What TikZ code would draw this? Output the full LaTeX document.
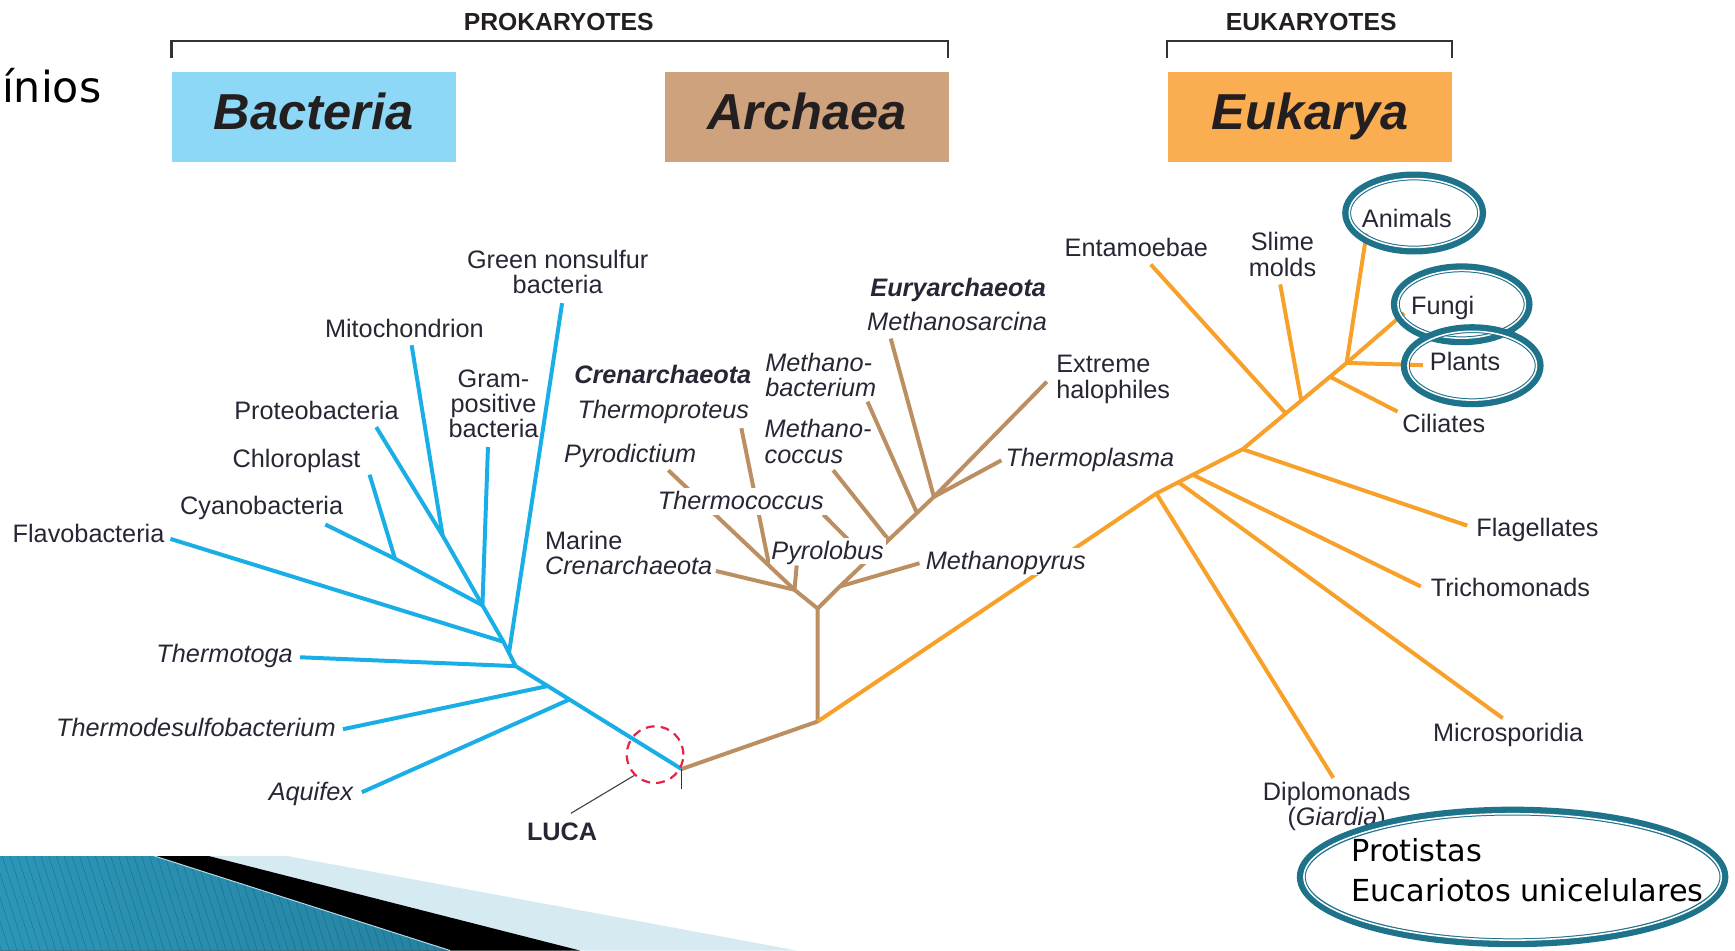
\documentclass[tikz,border=0pt]{standalone}
\usepackage{fontspec}
\setmainfont{Liberation Sans}
\newfontfamily\slidefont{DejaVu Sans}
\usetikzlibrary{positioning,calc}

\definecolor{bactblue}{HTML}{1AAEE6}
\definecolor{archtan}{HTML}{BC8F63}
\definecolor{eukorange}{HTML}{F7A02A}
\definecolor{bactbox}{HTML}{8DD8F6}
\definecolor{archbox}{HTML}{CFA27E}
\definecolor{eukbox}{HTML}{FBAD52}
\definecolor{ringteal}{HTML}{1E738A}
\definecolor{lucared}{HTML}{E8234A}
\definecolor{labelink}{HTML}{2A2535}
\definecolor{boxink}{HTML}{231F20}
\definecolor{bandblue}{HTML}{D6EAF2}
\definecolor{bandteal}{HTML}{2FA3C9}

\begin{document}
\begin{tikzpicture}[x=0.02cm, y=-0.02cm,
  bline/.style = {draw=bactblue, line width=0.072cm, line join=round},
  aline/.style = {draw=archtan, line width=0.072cm, line join=round},
  eline/.style = {draw=eukorange, line width=0.072cm, line join=round},
  taxon/.style = {font=\fontsize{13}{13}\selectfont, text=labelink, inner sep=1pt, align=center},
  single/.style = {taxon, text height=10pt, text depth=1.7pt},
  sp/.style = {single, font=\fontsize{13}{13}\selectfont\itshape},
  clade/.style = {single, font=\fontsize{13}{13}\selectfont\bfseries\itshape},
  cover/.style = {fill=white},
  dombox/.style = {minimum width=5.14cm, minimum height=1.62cm, inner sep=0pt, text=boxink,
    font=\fontsize{26}{26}\selectfont\bfseries\itshape, text height=20.2pt, text depth=7.4pt},
  groupname/.style = {font=\fontsize{12.7}{13}\selectfont\bfseries, text=boxink, inner sep=0pt},
  bracket/.style = {draw=black!80, line width=0.04cm},
  ringout/.style = {draw=ringteal, line width=0.16cm},
  ringgap/.style = {draw=white, line width=0.028cm},
  lucaring/.style = {circle, draw=lucared, line width=0.04cm, dash pattern=on 0.16cm off 0.11cm,
    minimum size=1.024cm, inner sep=0pt},
  leader/.style = {draw=black!75, line width=0.02cm},
  slide/.style = {font=\slidefont\fontsize{15.6}{18}\selectfont, text=black, inner sep=0pt},
  stripe/.style = {draw=black!60!bandteal, line width=0.25pt, opacity=0.4}
]
\useasboundingbox (0,0) rectangle (1568,859);

% headers
\node[slide, font=\slidefont\fontsize{22}{26}\selectfont, anchor=base east] (domword) at (92,93) {ínios};
\node[groupname] (prok) at (505,20) {PROKARYOTES};
\node[groupname] (euk) at (1185,20) {EUKARYOTES};
\draw[bracket] (155,52) -- (155,37) -- (857,37) -- (857,52);
\draw[bracket] (1055,52) -- (1055,37) -- (1312,37) -- (1312,52);
\node[dombox, fill=bactbox] (bacteria) at (283.5,105.5) {Bacteria};
\node[dombox, fill=archbox] (archaea) at (729.5,105.5) {Archaea};
\node[dombox, fill=eukbox] (eukarya) at (1184,105.5) {Eukarya};

% bacteria
\coordinate (luca) at (616,695);
\coordinate (bA) at (436,547);
\coordinate (bF) at (455,580);
\coordinate (bB) at (460,590);
\coordinate (bC) at (466,602);
\coordinate (bD) at (495,620);
\coordinate (bE) at (515,632);
\coordinate (bMito) at (400,484);
\coordinate (bChl) at (357,505);
\coordinate (tAquifex) at (327,716);
\coordinate (tThdesulfo) at (310,659);
\coordinate (tThermotoga) at (271,594);
\coordinate (tGreen) at (508,274);
\coordinate (tFlavo) at (154,487);
\coordinate (tGram) at (441,404);
\coordinate (tCyano) at (294,474);
\coordinate (tChloro) at (334,429);
\coordinate (tProteo) at (340,386);
\coordinate (tMito) at (372,312);
\draw[bline] (luca) -- (bC) -- (bB) -- (bF) -- (bA);
\draw[bline] (bA) -- (bMito) -- (tProteo);
\draw[bline] (bMito) -- (tMito);
\draw[bline] (bA) -- (bChl) -- (tCyano);
\draw[bline] (bChl) -- (tChloro);
\draw[bline] (bA) -- (tGram);
\draw[bline] (bF) -- (tFlavo);
\draw[bline] (bB) -- (tGreen);
\draw[bline] (bC) -- (tThermotoga);
\draw[bline] (bD) -- (tThdesulfo);
\draw[bline] (bE) -- (tAquifex);

% archaea
\coordinate (aRoot) at (739,652);
\coordinate (aFork) at (739,550);
\coordinate (aL) at (718,533);
\coordinate (aR) at (759,530);
\coordinate (aTop) at (844,449);
\coordinate (tMarine) at (647,516);
\coordinate (tPyrolobus) at (720,511);
\coordinate (tPyrodictium) at (604,425);
\coordinate (tThproteus) at (670,387);
\coordinate (tMpyrus) at (831,509);
\coordinate (tThcoccus) at (744,465);
\coordinate (tMcoccus) at (753,425);
\coordinate (tMbact) at (784,363);
\coordinate (tMsarcina) at (805,306);
\coordinate (tHalo) at (946,345);
\coordinate (tThplasma) at (905,416);
\coordinate (aProt) at ($(tPyrodictium)!0.80!(aL)$);
\coordinate (e1) at ($(aR)!0.30!(aTop)$);
\coordinate (e2) at ($(aR)!0.52!(aTop)$);
\coordinate (e3) at ($(aR)!0.82!(aTop)$);
\draw[aline] (luca) -- (aRoot) -- (aFork) -- (aL);
\draw[aline] (aFork) -- (aR) -- (aTop);
\draw[aline] (aL) -- (tMarine);
\draw[aline] (aL) -- (tPyrolobus);
\draw[aline] (aL) -- (tPyrodictium);
\draw[aline] (aProt) -- (tThproteus);
\draw[aline] (aR) -- (tMpyrus);
\draw[aline] (e1) -- (tThcoccus);
\draw[aline] (e2) -- (tMcoccus);
\draw[aline] (e3) -- (tMbact);
\draw[aline] (aTop) -- (tMsarcina);
\draw[aline] (aTop) -- (tHalo);
\draw[aline] (aTop) -- (tThplasma);

% eukarya
\coordinate (k1) at (1045,446);
\coordinate (k4) at (1123,406);
\coordinate (k8) at (1217,328);
\coordinate (k2) at ($(k1)!0.256!(k4)$);
\coordinate (k3) at ($(k1)!0.423!(k4)$);
\coordinate (k5) at ($(k4)!0.415!(k8)$);
\coordinate (k6) at ($(k4)!0.564!(k8)$);
\coordinate (k7) at ($(k4)!0.84!(k8)$);
\coordinate (tDiplo) at (1205,703);
\coordinate (tMicro) at (1358,649);
\coordinate (tTricho) at (1284,530);
\coordinate (tFlag) at (1326,475);
\coordinate (tEntam) at (1040,239);
\coordinate (tSlime) at (1157,257);
\coordinate (tCiliates) at (1263,372);
\coordinate (tPlants) at (1286,330);
\coordinate (tFungi) at (1269,283);
\coordinate (tAnimals) at (1235,211);
\draw[eline] (aRoot) -- (k1) -- (k4) -- (k8);
\draw[eline] (k1) -- (tDiplo);
\draw[eline] (k2) -- (tMicro);
\draw[eline] (k3) -- (tTricho);
\draw[eline] (k4) -- (tFlag);
\draw[eline] (k5) -- (tEntam);
\draw[eline] (k6) -- (tSlime);
\draw[eline] (k7) -- (tCiliates);
\draw[eline] (k8) -- (tPlants);
\draw[eline] (k8) -- (tFungi);
\draw[eline] (k8) -- (tAnimals);

% LUCA
\draw[draw=black!80, line width=0.03cm] (luca) -- ++(0,18);
\node[lucaring] (ring) at (592,682) {};
\node[single, font=\fontsize{13}{13}\selectfont\bfseries] (lucaname) at (508,752) {LUCA};
\coordinate (leadfoot) at (516,735);
\draw[leader] (leadfoot) -- (ring.225);

% bacteria labels
\node[taxon] (green) at (504,245.5) {Green nonsulfur\\bacteria};
\node[single] (mito) at (365.5,297.3) {Mitochondrion};
\node[taxon] (gram) at (446,365) {Gram-\\positive\\bacteria};
\node[single] (proteo) at (286,372) {Proteobacteria};
\node[single] (chloro) at (268,415) {Chloroplast};
\node[single] (cyano) at (236.5,458) {Cyanobacteria};
\node[single] (flavo) at (80,483) {Flavobacteria};
\node[sp] (thermotoga) at (203,591) {Thermotoga};
\node[sp] (thdesulfo) at (177,658.5) {Thermodesulfobacterium};
\node[sp] (aquifex) at (281,716.5) {Aquifex};

% archaea labels
\node[clade] (crenname) at (599,339) {Crenarchaeota};
\node[sp] (thproteus) at (599.5,370.5) {Thermoproteus};
\node[sp] (pyrodict) at (569.5,411) {Pyrodictium};
\node[sp, cover] (thcoccus) at (669.5,453) {Thermococcus};
\node[sp, cover] (pyrolob) at (748,498) {Pyrolobus};
\node[taxon, align=left, anchor=west] (marine) at (490.5,500) {Marine\\\textit{Crenarchaeota}};
\node[taxon, align=left, anchor=west, font=\fontsize{13}{13}\selectfont\itshape] (mbact) at (689.5,339) {Methano-\\bacterium};
\node[taxon, align=left, anchor=west, font=\fontsize{13}{13}\selectfont\itshape] (mcoccus) at (689,399) {Methano-\\coccus};
\node[clade] (euryname) at (866,260.5) {Euryarchaeota};
\node[sp] (msarcina) at (865,291.6) {Methanosarcina};
\node[taxon, align=left, anchor=west] (halo) at (952.5,343) {Extreme\\halophiles};
\node[sp, cover] (thplasma) at (985,414) {Thermoplasma};
\node[sp, cover] (mpyrus) at (909,507.6) {Methanopyrus};

% eukarya labels
\node[single] (entam) at (1027,224.4) {Entamoebae};
\node[taxon] (slime) at (1159,230) {Slime\\molds};
\node[single] (animals) at (1271.5,198.2) {Animals};
\node[single] (fungi) at (1303.8,276.5) {Fungi};
\node[single] (plants) at (1324,327.5) {Plants};
\node[single] (ciliates) at (1304.8,383.2) {Ciliates};
\node[single] (flag) at (1389.5,477.5) {Flagellates};
\node[single] (tricho) at (1365,531.7) {Trichomonads};
\node[single] (micro) at (1363,662.8) {Microsporidia};
\node[taxon] (diplo) at (1208,729) {Diplomonads\\(\textit{Giardia})};

% highlight rings
\foreach \cx/\cy/\rx/\ry in {1278/192.5/61/33.5, 1321/275/60/33, 1330.5/330.5/60.5/33.5} {
  \draw[ringout] (\cx,\cy) ellipse ({\rx} and {\ry});
  \draw[ringgap] (\cx,\cy) ellipse ({\rx-2.4} and {\ry-2.4});
}
\fill[white] (1367,792.5) ellipse (191 and 59.5);
\draw[ringout] (1367,792.5) ellipse (191 and 59.5);
\draw[ringgap] (1367,792.5) ellipse (188.6 and 57.1);
\node[slide, anchor=base west] (protA) at (1221,779) {Protistas};
\node[slide, anchor=base west] (protB) at (1221,815) {Eucariotos unicelulares};

% slide decoration
\fill[bandblue] (0,773.6) -- (259.7,773.6) -- (720.2,859) -- (0,859) -- cycle;
\fill[black] (0,773.6) -- (188.6,773.6) -- (524,859) -- (0,859) -- cycle;
\begin{scope}
  \clip (0,773.6) -- (139.6,773.6) -- (406.7,859) -- (0,859) -- cycle;
  \shade[left color=bandteal!92!black, middle color=bandteal!60!white, right color=bandteal!80!black]
    (0,773.6) rectangle (410,859);
  \foreach \s in {-40,-33,...,410}
    \draw[stripe] (\s,773.6) -- ++(27.5,85.4);
\end{scope}
\draw[bandblue!80!bandteal, line width=0.5pt] (139.6,773.6) -- (406.7,859);
\end{tikzpicture}
\end{document}
